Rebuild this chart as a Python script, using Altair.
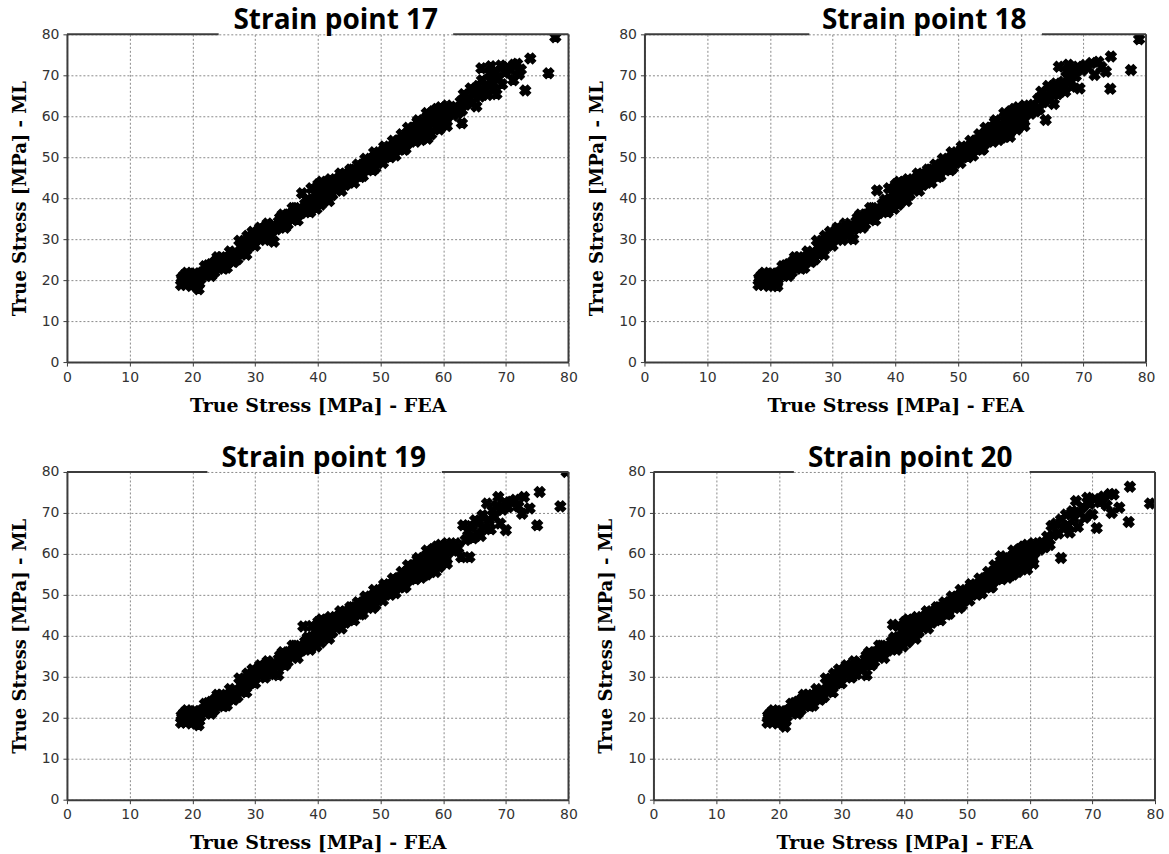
import altair as alt
import pandas as pd

TICKS = [0, 10, 20, 30, 40, 50, 60, 70, 80]

# shared dense band (same in all four strain points)
core_fea = [18.2,18.3,18.5,18.7,19.0,19.2,19.4,19.6,19.9,20.1,
            20.3,20.6,20.9,21.3,21.6,22.0,22.3,22.7,23.0,23.3,
            23.7,24.0,24.4,24.8,25.2,25.6,26.0,26.4,26.8,27.2,
            27.5,27.8,27.6,28.0,28.3,28.6,29.0,29.3,29.6,29.9,
            30.3,30.7,31.0,31.4,31.8,32.2,32.6,33.0,33.4,33.8,
            34.2,34.6,35.0,35.4,35.8,36.2,36.6,37.0,37.4,37.8,
            38.2,38.6,39.0,39.3,39.6,39.9,40.1,40.3,40.5,40.7,
            41.0,41.2,41.5,41.8,42.0,42.3,42.7,43.0,43.4,43.8,
            44.2,44.6,45.0,45.4,45.8,46.2,46.6,47.0,47.4,47.8,
            48.2,48.6,49.0,49.4,49.8,50.2,50.6,51.0,51.4,51.8,
            52.2,52.6,53.0,53.4,53.8,54.2,54.6,55.0,55.3,55.6,
            55.9,56.2,56.5,56.8,57.1,57.5,57.8,58.1,58.4,58.7,
            59.0,59.3,59.7,60.0,60.4,60.8,61.2,
            18.4,19.1,19.8,20.5,21.1,22.5,23.5,24.6,25.5,26.6,
            28.8,30.0,31.2,32.4,34.0,35.2,36.4,38.0,39.0,39.8,
            40.6,41.4,42.2,43.2,44.4,45.6,46.8,48.0,49.2,50.4,
            51.6,52.8,54.0,55.1,56.0,57.0,58.0,59.0,60.2,
            # band edges
            22.0,24.0,26.0,30.8,32.0,34.4,36.0,38.4,42.0,43.6,
            45.2,46.4,47.6,49.0,50.6,52.0,53.4,54.4,56.0,57.4,
            59.6,60.6,
            23.0,25.0,28.6,31.6,34.8,36.8,38.8,41.6,43.8,45.8,
            47.2,48.8,50.4,52.4,53.8,55.6,57.4,59.4,60.6]
core_ml = [18.8,20.5,19.6,21.2,18.9,20.2,21.4,19.4,20.8,19.0,
           21.6,20.1,21.0,20.3,21.9,21.2,22.8,21.6,23.9,22.4,
           24.6,23.1,25.0,23.7,24.9,24.2,25.8,24.6,26.4,25.1,
           29.6,28.2,27.0,26.6,29.0,27.7,30.4,28.6,31.8,29.6,
           30.9,31.9,30.5,32.6,31.3,32.9,31.8,33.4,32.4,34.3,
           33.4,35.1,34.4,36.0,35.0,36.8,35.7,37.1,36.4,37.6,
           36.9,38.2,39.6,38.0,41.2,39.2,43.4,40.6,38.4,42.2,
           40.0,43.8,41.4,39.3,42.9,40.8,43.6,42.2,44.9,43.4,
           45.8,44.4,46.2,45.2,46.6,45.5,47.2,46.0,48.3,47.1,
           49.2,47.8,50.1,49.0,50.8,50.0,51.9,50.6,52.3,51.2,
           53.0,51.9,54.1,52.8,54.6,53.2,55.8,54.3,57.2,55.4,
           58.6,56.3,54.2,58.0,56.6,59.9,57.4,55.6,61.2,58.8,
           57.2,60.6,59.2,61.4,58.2,60.3,61.8,
           20.0,21.8,18.6,21.6,19.2,23.6,21.9,25.6,23.0,24.4,
           30.8,28.4,32.4,30.6,35.2,33.6,37.6,38.6,42.4,37.4,
           44.0,42.6,41.0,44.4,43.2,47.0,45.2,48.8,47.4,51.4,
           50.0,54.0,52.0,56.6,57.8,54.8,59.2,61.8,59.6,
           23.4,25.6,27.0,32.8,33.8,36.0,37.6,39.6,44.6,46.0,
           47.0,48.2,49.6,51.2,52.6,54.0,55.6,57.2,59.0,60.8,
           62.2,62.6,
           21.0,22.8,26.2,29.8,32.8,34.6,36.6,39.8,41.8,43.8,
           45.4,46.8,48.6,50.4,51.8,53.8,55.0,56.8,57.6]

# panel-specific upper tails and outliers
fea17 = [21.0,33.0,37.5,61.6,62.0,62.4,62.8,63.0,63.3,63.6,63.0,64.0,64.4,
         64.7,65.0,65.3,65.6,65.9,66.2,66.4,66.1,66.8,67.1,
         67.4,67.6,67.8,68.1,68.5,68.4,68.8,69.2,69.4,69.8,
         70.3,70.8,71.2,71.3,71.8,72.1,72.4,73.1,73.9,76.8,77.9,57.5]
ml17 = [17.8,29.4,41.2,60.2,62.3,60.8,63.6,61.4,65.4,62.8,58.3,64.6,66.8,
        63.4,65.6,62.4,67.4,64.8,68.8,66.0,71.7,67.6,65.2,
        70.4,72.2,68.4,66.6,65.4,71.0,69.2,72.4,67.8,70.6,
        72.0,71.2,68.8,72.6,72.8,70.2,71.4,66.3,74.1,70.5,79.3,54.5]

fea18 = [21.2,33.3,37.1,58.3,61.6,62.0,62.4,62.8,63.0,63.3,
         63.6,64.0,64.0,64.4,64.7,65.0,65.3,65.6,65.9,66.1,
         66.4,66.8,67.1,67.3,67.6,67.8,68.1,68.4,68.8,69.1,
         69.4,69.8,70.3,70.8,71.3,71.8,72.4,72.9,73.6,74.4,
         74.3,77.6,78.9]
ml18 = [18.5,30.0,41.9,55.0,60.6,62.8,61.2,64.2,61.8,66.0,
        63.4,59.1,65.2,67.4,64.0,66.2,63.0,68.0,65.4,72.1,
        66.6,68.4,66.0,70.9,72.6,69.0,67.2,71.6,69.8,72.1,
        66.8,71.2,72.5,71.8,73.0,70.1,73.3,72.0,70.9,74.6,
        66.7,71.3,78.8]

fea19 = [21.0,33.7,37.7,58.8,61.6,62.0,62.4,62.9,63.2,63.6,
         64.0,64.2,64.4,64.8,65.1,65.4,65.7,66.0,66.3,66.6,
         67.0,67.3,67.6,67.9,68.2,68.5,68.8,69.1,69.5,69.8,
         70.0,70.4,70.9,71.5,72.0,72.6,72.9,73.8,75.4,75.0,
         78.7,79.7]
ml19 = [18.2,30.4,42.3,55.6,60.8,62.6,61.4,59.2,67.0,63.4,
        65.6,59.2,66.8,63.8,68.2,65.2,67.6,64.4,69.4,66.4,
        72.3,68.2,66.0,70.6,69.0,71.6,73.9,67.4,70.8,72.6,
        65.8,71.4,72.7,73.2,71.6,69.8,73.9,71.1,75.1,67.0,
        71.6,80.0]

fea20 = [21.0,34.0,38.2,55.4,59.6,61.6,62.0,62.4,62.8,63.2,
         63.5,63.8,64.2,64.6,65.0,65.0,65.4,65.8,66.1,66.4,
         66.8,67.1,67.4,67.7,68.0,68.4,68.8,69.2,69.6,70.0,
         70.4,70.7,71.2,71.8,72.3,72.8,73.1,73.4,74.3,76.0,
         75.8,79.2]
ml20 = [17.8,30.4,42.7,59.4,56.2,61.0,62.8,61.6,64.2,62.2,
        66.8,64.6,67.4,65.0,59.0,68.4,66.2,69.6,67.0,65.2,
        70.4,68.6,72.9,66.6,70.0,71.4,68.8,73.7,72.2,69.6,
        73.4,66.3,72.6,74.0,71.8,74.6,70.0,74.5,71.3,76.4,
        67.8,72.3]

titles = ["Strain point 17", "Strain point 18", "Strain point 19", "Strain point 20"]
# where the top frame line is interrupted by the title (data units)
gaps = [(24.2, 61.6), (26.3, 63.4), (22.4, 59.8), (22.4, 60.0)]
title_dx = [18, 29, 6, 6]

FRAME = "#3c3c3c"


def panel(title, fea, ml, gap, dx):
    df = pd.DataFrame({"fea": core_fea + fea, "ml": core_ml + ml})
    xs = alt.Scale(domain=[0, 80], nice=False, zero=False)
    ys = alt.Scale(domain=[0, 80], nice=False, zero=False)
    pts = alt.Chart(df).mark_point(
        shape="cross", angle=45, filled=True, size=120, color="black",
        stroke="black", strokeWidth=1.2, opacity=1, clip=True
    ).encode(
        x=alt.X("fea:Q", scale=xs,
                axis=alt.Axis(values=TICKS, title="True Stress [MPa] - FEA",
                              titleFontSize=19)),
        y=alt.Y("ml:Q", scale=ys,
                axis=alt.Axis(values=TICKS, title="True Stress [MPa] - ML",
                              titleFontSize=18)),
    )
    one = pd.DataFrame({"k": [0]})
    top_left = alt.Chart(one).mark_rule(color=FRAME, strokeWidth=2).encode(
        x=alt.datum(0), x2=alt.datum(gap[0]), y=alt.datum(80))
    top_right = alt.Chart(one).mark_rule(color=FRAME, strokeWidth=2).encode(
        x=alt.datum(gap[1]), x2=alt.datum(80), y=alt.datum(80))
    right = alt.Chart(one).mark_rule(color=FRAME, strokeWidth=2).encode(
        x=alt.datum(80), y=alt.datum(0), y2=alt.datum(80))
    return alt.layer(pts, top_left, top_right, right).properties(
        width=502, height=328,
        title=alt.TitleParams(text=title, font="Open Sans", fontSize=28,
                              fontWeight="bold", color="black",
                              anchor="middle", dx=dx, offset=-8),
    )


datasets = [(fea17, ml17), (fea18, ml18), (fea19, ml19), (fea20, ml20)]
panels = [panel(titles[i], datasets[i][0], datasets[i][1], gaps[i], title_dx[i])
          for i in range(4)]

row1 = alt.hconcat(panels[0], panels[1], spacing=11)
row2 = alt.hconcat(panels[2], panels[3], spacing=20)

chart = alt.vconcat(row1, row2, spacing=30).properties(
    padding={"left": 11, "top": 7, "right": 5, "bottom": 5},
    background="white",
).configure_view(stroke=None).configure_axis(
    domainColor=FRAME, domainWidth=2,
    tickColor=FRAME, tickSize=4, tickWidth=1,
    labelFont="DejaVu Sans", labelFontSize=14, labelColor="#333333",
    labelPadding=4, labelFlush=False, labelOverlap=False,
    titleFont="DejaVu Serif", titleFontWeight="bold",
    titleColor="black", titlePadding=12,
    grid=True, gridColor="#8a8a8a", gridDash=[2, 2], gridWidth=1,
)

chart.save("out.html", embed_options={"renderer": "svg", "actions": False})
